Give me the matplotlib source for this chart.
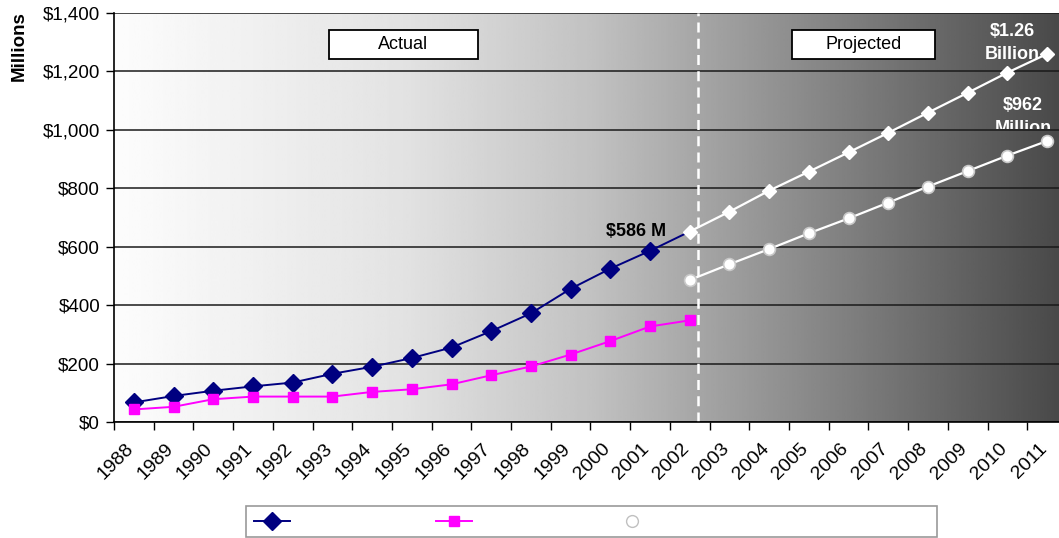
import numpy as np
import matplotlib.pyplot as plt
import matplotlib.transforms as mtransforms
from matplotlib.lines import Line2D
from matplotlib.patches import Rectangle

plt.rcParams['font.family'] = ['Liberation Sans', 'DejaVu Sans']

years = [str(y) for y in range(1988, 2012)]

# actual figures, 1988-2002 ($ millions)
total_actual = [67, 89, 107, 122, 135, 165, 189, 219, 255, 311, 372, 456, 525, 586, 652]
other_actual = [43, 52, 78, 87, 87, 87, 103, 112, 129, 160, 190, 231, 277, 327, 348]
# projections, 2002-2011
total_proj = [652, 720, 792, 857, 923, 990, 1059, 1127, 1196, 1260]
other_proj = [486, 540, 592, 646, 697, 751, 806, 859, 912, 962]

yticks = [0, 200, 400, 600, 800, 1000, 1200, 1400]
ytick_labels = ['$0', '$200', '$400', '$600', '$800', '$1,000', '$1,200', '$1,400']

x_act = np.arange(len(total_actual))
x_proj = np.arange(len(total_actual) - 1, len(years))

fig = plt.figure(figsize=(10.59, 5.38), dpi=100)
# plot area runs a little past the right edge of the figure
ax = fig.add_axes([114 / 1059, 1 - 422 / 538, 953 / 1059, 409 / 538])

# light-to-dark background
grad_x = np.linspace(0, 1, 400)
shade = np.interp(grad_x, [0, 0.3, 0.5, 1.0], [0.99, 0.89, 0.76, 0.28])
ax.imshow(shade[np.newaxis, :], cmap='gray', vmin=0, vmax=1, aspect='auto',
          extent=[-0.5, len(years) - 0.5, 0, 1400], zorder=0, interpolation='bilinear')

ax.yaxis.grid(True, color='#1a1a1a', lw=1.1, zorder=1)

ax.plot(x_act, total_actual, color='#000080', lw=1.4, marker='D', ms=9,
        markevery=slice(0, len(total_actual) - 1), zorder=3)
ax.plot(x_act, other_actual, color='#ff00ff', lw=1.4, marker='s', ms=7.5, zorder=3)
ax.plot(x_proj, total_proj, color='white', lw=1.6, marker='D', ms=7.5,
        mec='white', zorder=4)
ax.plot(x_proj, other_proj, color='white', lw=1.6, marker='o', ms=8.5,
        mfc='white', mec='#c8c8c8', mew=1.2, zorder=4)

ax.axvline(14.2, color='white', lw=1.8, ls=(0, (4, 2.5)), zorder=2)

ax.set_xlim(-0.5, len(years) - 0.5)
ax.set_ylim(0, 1400)
ax.set_yticks(yticks)
ax.set_yticklabels(ytick_labels, fontsize=13.5)
ax.set_xticks(np.arange(len(years)))
ax.set_xticklabels(years, fontsize=14, rotation=45, ha='right', va='top',
                   rotation_mode='anchor')
ax.set_xticks(np.arange(len(years) + 1) - 0.5, minor=True)
ax.tick_params(axis='x', which='major', length=0, pad=13)
ax.tick_params(axis='x', which='minor', length=6, width=1, direction='out')
ax.tick_params(axis='y', length=6, width=1, direction='out', pad=4)
shift = mtransforms.ScaledTranslation(-9 / 100, 0, fig.dpi_scale_trans)
for lab in ax.get_xticklabels():
    lab.set_transform(lab.get_transform() + shift)

for side in ['top', 'right']:
    ax.spines[side].set_visible(False)
ax.spines['left'].set_linewidth(1.2)
ax.spines['bottom'].set_linewidth(1.2)

ax.set_ylabel('Millions', fontsize=13.5, fontweight='bold')
ax.yaxis.set_label_coords(-0.0905, 0.92)

# period captions
for x0, x1, label in [(329, 478, 'Actual'), (792, 935, 'Projected')]:
    fx0 = (x0 - 114) / 953
    fx1 = (x1 - 114) / 953
    fy0 = (422 - 59) / 409
    fy1 = (422 - 30) / 409
    ax.add_patch(Rectangle((fx0, fy0), fx1 - fx0, fy1 - fy0, transform=ax.transAxes,
                           fc='white', ec='black', lw=1.3, zorder=5))
    ax.text((fx0 + fx1) / 2, (fy0 + fy1) / 2, label, transform=ax.transAxes,
            ha='center', va='center', fontsize=13, zorder=6)

ax.annotate('$%d M' % total_actual[13], xy=(13, total_actual[13]),
            xytext=(-14, 19), textcoords='offset pixels', ha='center', va='center',
            fontsize=13, fontweight='bold', zorder=6)
ax.annotate('$%.2f\nBillion' % (total_proj[-1] / 1000), xy=(23, total_proj[-1]),
            xytext=(-35, 11), textcoords='offset pixels', ha='center', va='center',
            fontsize=13, fontweight='bold', color='white', linespacing=1.5, zorder=6)
t = ax.annotate('$%d\nMillion' % other_proj[-1], xy=(23, other_proj[-1]),
                xytext=(-24, 24), textcoords='offset pixels', ha='center', va='center',
                fontsize=13, fontweight='bold', color='white', linespacing=1.5, zorder=6)
t.set_clip_path(Rectangle((-1, 1003), 30, 1000, transform=ax.transData))

handles = [
    Line2D([], [], color='#000080', lw=1.4, marker='D', ms=9),
    Line2D([], [], color='#ff00ff', lw=1.4, marker='s', ms=7.5),
    Line2D([], [], color='white', lw=1.4, marker='o', ms=8.5, mfc='white', mec='#c0c0c0'),
]
labels = [' ' * 34, ' ' * 33, ' ' * 70]
leg = fig.legend(handles, labels, loc='lower left', ncol=3,
                 bbox_to_anchor=(246 / 1059, 1 / 538), borderaxespad=0, borderpad=0.6,
                 fontsize=10, handlelength=2.6, handletextpad=0.5, columnspacing=0.5,
                 frameon=True, fancybox=False, edgecolor='#808080')
leg.get_frame().set_linewidth(1.2)

fig.savefig('out.png', dpi=100)
